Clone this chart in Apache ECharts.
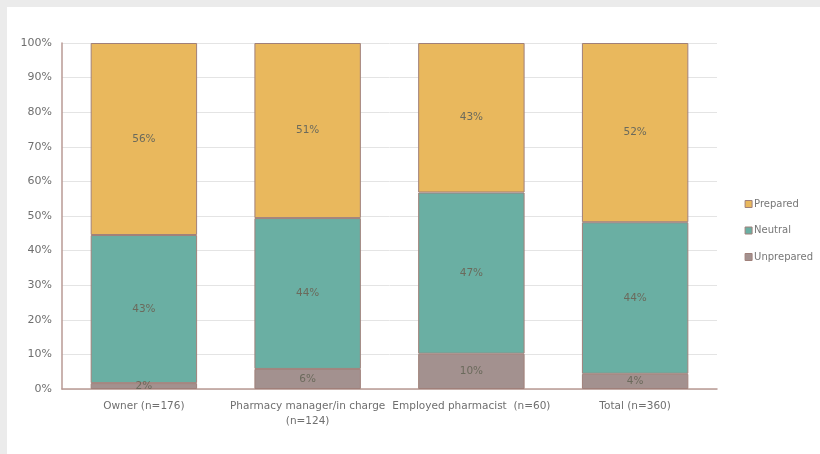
<!DOCTYPE html>
<html>
<head>
<meta charset="utf-8">
<script src="https://cdn.jsdelivr.net/npm/echarts@6/dist/echarts.min.js"></script>
<style>
html,body{margin:0;padding:0;background:#ebebeb;width:820px;height:454px;overflow:hidden;}
#c{position:absolute;left:7px;top:7px;width:813px;height:447px;background:#fff;}
</style>
</head>
<body>
<div id="c"></div>
<script>
var categories = ['Owner (n=176)', 'Pharmacy manager/in charge\n(n=124)', 'Employed pharmacist  (n=60)', 'Total (n=360)'];
var unprepared = [1.7, 5.8, 10.2, 4.4];
var neutral = [42.8, 43.6, 46.6, 43.8];
var prepared = [55.5, 50.6, 43.2, 51.8];
var yTicks = ['0%','10%','20%','30%','40%','50%','60%','70%','80%','90%','100%'];

var chart = echarts.init(document.getElementById('c'));
var font = '"DejaVu Sans", sans-serif';
var lbl = {show:true, position:'inside', fontFamily:font, fontSize:10.5, color:'#6b6a5c',
  formatter:function(p){return Math.round(p.value)+'%';}};
function ser(name, data, color){
  return {name:name, type:'bar', stack:'s', data:data, barWidth:'65%',
    itemStyle:{color:color, borderColor:'#a0807a', borderWidth:1},
    label:lbl};
}
chart.setOption({
  animation:false,
  grid:{left:55, right:103, top:36, bottom:65},
  legend:{orient:'vertical', right:2, top:187, itemGap:16.5, itemWidth:7, itemHeight:7,
    icon:'rect', textStyle:{fontFamily:font, fontSize:10, color:'#777', padding:[0,0,0,-3]},
    data:['Prepared','Neutral','Unprepared'],
    itemStyle:{borderColor:'#a0807a', borderWidth:1}},
  xAxis:{type:'category', data:categories,
    axisLine:{lineStyle:{color:'#b99a94', width:1.5}}, axisTick:{show:false},
    axisLabel:{fontFamily:font, fontSize:10.5, color:'#6f6f6f', interval:0, margin:10, lineHeight:15}},
  yAxis:{type:'value', min:0, max:100, interval:10,
    axisLine:{show:true, lineStyle:{color:'#b99a94', width:1.5}},
    axisLabel:{fontFamily:font, fontSize:11, color:'#6f6f6f', margin:10,
      formatter:function(v){return yTicks[Math.round(v/10)];}},
    splitLine:{lineStyle:{color:'#e4e4e4'}}},
  series:[
    ser('Unprepared', unprepared, '#a3918f'),
    ser('Neutral', neutral, '#6aafa3'),
    ser('Prepared', prepared, '#e9b85d')
  ]
});
</script>
</body>
</html>
